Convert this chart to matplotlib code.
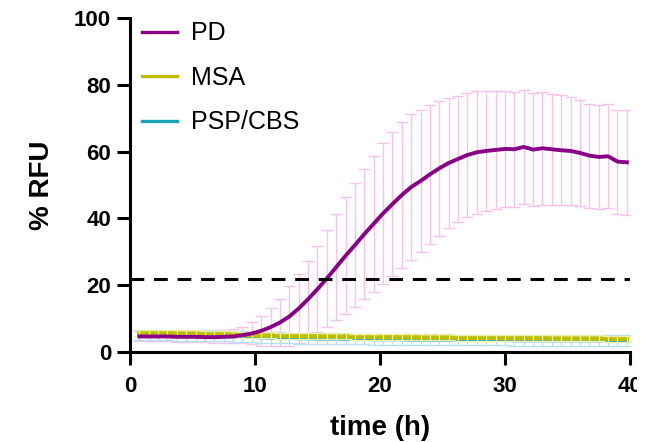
import numpy as np
import matplotlib.pyplot as plt
from matplotlib.lines import Line2D
from matplotlib.patches import Rectangle

plt.rcParams['font.family'] = ['Liberation Sans', 'DejaVu Sans']

# time points every 45 min
time_h = 0.75 * np.arange(1, 54)

pd_mean = [4.6, 4.6, 4.6, 4.6, 4.5, 4.5, 4.5, 4.4, 4.4, 4.5, 4.6, 5.0, 5.5,
           6.3, 7.4, 8.8, 10.6, 13.0, 15.8, 18.8, 22.0, 25.4, 28.8, 32.0, 35.3,
           38.4, 41.5, 44.3, 47.0, 49.4, 51.2, 53.2, 55.0, 56.6, 57.8, 59.0,
           59.8, 60.2, 60.5, 60.8, 60.7, 61.4, 60.6, 61.0, 60.7, 60.4, 60.2,
           59.6, 58.8, 58.4, 58.6, 57.0, 56.8]
pd_sd = [1.5, 1.5, 1.5, 1.5, 1.5, 1.5, 1.5, 1.6, 1.7, 1.9, 2.1, 2.4, 3.3,
         4.5, 5.8, 7.1, 9.0, 10.3, 11.5, 13.0, 14.5, 16.0, 17.5, 18.6, 19.6,
         20.4, 21.2, 21.6, 21.8, 21.8, 21.4, 20.8, 20.2, 19.5, 19.0, 18.6,
         18.4, 18.0, 17.8, 17.5, 17.3, 17.2, 17.0, 16.9, 16.7, 16.5, 16.2,
         16.0, 15.6, 15.5, 15.6, 15.6, 15.7]

msa_mean = [5.6, 5.6, 5.6, 5.6, 5.5, 5.5, 5.5, 5.4, 5.4, 5.3, 5.2, 5.1, 5.0,
            4.9, 4.9, 4.8, 4.8, 4.7, 4.7, 4.7, 4.6, 4.6, 4.6, 4.5, 4.5, 4.5,
            4.4, 4.4, 4.4, 4.4, 4.3, 4.3, 4.3, 4.3, 4.2, 4.2, 4.2, 4.2, 4.2,
            4.1, 4.1, 4.1, 4.1, 4.1, 4.0, 4.0, 4.0, 4.0, 4.0, 4.0, 3.9, 3.9, 3.9]
msa_sd = [0.9] * 53

psp_mean = [5.0, 5.0, 5.0, 5.0, 4.9, 4.9, 4.9, 4.8, 4.8, 4.7, 4.6, 4.5, 4.4,
            4.3, 4.2, 4.2, 4.1, 4.0, 4.0, 3.9, 3.9, 3.9, 3.8, 3.8, 3.8, 3.7,
            3.7, 3.7, 3.7, 3.6, 3.6, 3.6, 3.6, 3.6, 3.5, 3.5, 3.5, 3.5, 3.5,
            3.5, 3.4, 3.4, 3.4, 3.4, 3.4, 3.4, 3.4, 3.4, 3.4, 3.4, 3.4, 3.4, 3.4]
psp_sd = [1.6] * 53

threshold = 21.7

labels = ['PD', 'MSA', 'PSP/CBS']
line_cols = ['#870087', '#BDBD00', '#1AA3BD']
err_cols = ['#F7C3EE', '#EFEFA6', '#B5E0EE']

fig = plt.figure(figsize=(6.48, 4.42), dpi=100)
ax = fig.add_axes([0.2006, 0.204, 0.7716, 0.755])

# PSP/CBS and MSA (error bars drawn over the lines)
ax.plot(time_h, psp_mean, color=line_cols[2], lw=2.6, zorder=3)
ax.errorbar(time_h, psp_mean, yerr=psp_sd, fmt='none', ecolor=err_cols[2],
            elinewidth=0.9, capsize=4, capthick=0.9, zorder=4)
ax.plot(time_h, msa_mean, color=line_cols[1], lw=3.2, zorder=5)
ax.errorbar(time_h, msa_mean, yerr=msa_sd, fmt='none', ecolor=err_cols[1],
            elinewidth=0.9, capsize=4, capthick=0.9, zorder=6)

# PD
ax.errorbar(time_h, pd_mean, yerr=pd_sd, fmt='none', ecolor=err_cols[0],
            elinewidth=1.0, capsize=4.5, capthick=1.0, zorder=2)
ax.plot(time_h, pd_mean, color=line_cols[0], lw=2.8, zorder=7)

ax.axhline(threshold, xmin=0, xmax=1, color='black', lw=2.2,
           dashes=(4.5, 3.2), zorder=8)

ax.set_xlim(0, 40)
ax.set_ylim(0, 100)
ax.set_xticks([0, 10, 20, 30, 40])
ax.set_yticks([0, 20, 40, 60, 80, 100])
for s in ['top', 'right']:
    ax.spines[s].set_visible(False)
for s in ['left', 'bottom']:
    ax.spines[s].set_linewidth(2.2)
ax.tick_params(width=2.2, length=9.5, labelsize=16)
ax.tick_params(axis='x', pad=8)
ax.tick_params(axis='y', pad=4)
for lab in ax.get_xticklabels() + ax.get_yticklabels():
    lab.set_fontweight('bold')

ax.set_xlabel('time (h)', fontsize=20, fontweight='bold', labelpad=13)
ax.set_ylabel('% RFU', fontsize=20, fontweight='bold', labelpad=14)

handles = [Line2D([], [], color=c, lw=2.4) for c in line_cols]
ax.legend(handles, labels, loc='upper left', bbox_to_anchor=(0.024, 0.99),
          frameon=False, fontsize=18, handlelength=1.4, handletextpad=0.55,
          labelspacing=0.82, borderaxespad=0, borderpad=0)

# right edge of the original picture is cut just past the last tick label
fig.patches.append(Rectangle((637 / 648, 0), 1, 1, transform=fig.transFigure,
                             facecolor='white', edgecolor='none', zorder=20))

fig.savefig('out.png', dpi=100)
